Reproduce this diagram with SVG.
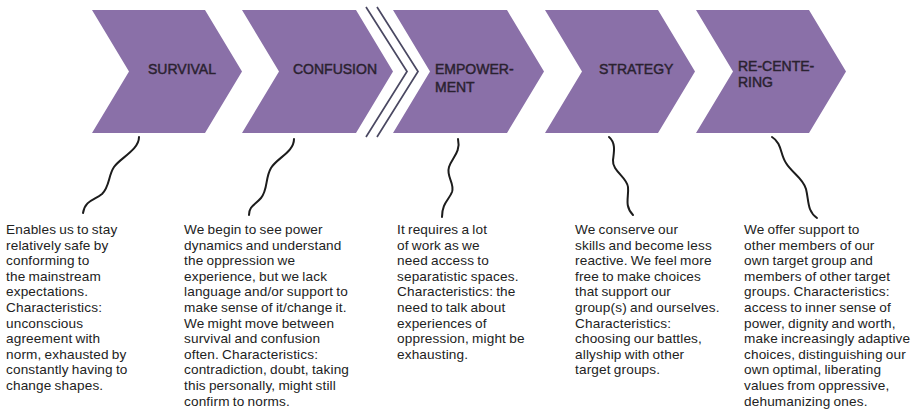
<svg xmlns="http://www.w3.org/2000/svg" width="920" height="411" viewBox="0 0 920 411">
<style>
.chev{fill:#8a70a8}
.lbl{font-family:"Liberation Sans",Arial,sans-serif;font-size:14px;fill:#2a2230;stroke:#2a2230;stroke-width:0.45}
.body{font-family:"Liberation Sans",Arial,sans-serif;font-size:13.6px;fill:#222;letter-spacing:0.15px;word-spacing:-0.8px}
.sq{fill:none;stroke:#1c1c1c;stroke-width:2;stroke-linecap:round}
.dbl{fill:none;stroke:#4a4862;stroke-width:1.7}
</style>
<rect width="920" height="411" fill="#fff"/>
<g id="survival">
<polygon class="chev" points="92,10 205,10 242,71.5 205,133 92,133 129,71.5"/>
<text class="lbl" x="148" y="74">SURVIVAL</text>
<text class="body" x="6" y="234">
<tspan x="6" dy="0">Enables us to stay</tspan>
<tspan x="6" dy="15.6">relatively safe by</tspan>
<tspan x="6" dy="15.6">conforming to</tspan>
<tspan x="6" dy="15.6">the mainstream</tspan>
<tspan x="6" dy="15.6">expectations.</tspan>
<tspan x="6" dy="15.6">Characteristics:</tspan>
<tspan x="6" dy="15.6">unconscious</tspan>
<tspan x="6" dy="15.6">agreement with</tspan>
<tspan x="6" dy="15.6">norm, exhausted by</tspan>
<tspan x="6" dy="15.6">constantly having to</tspan>
<tspan x="6" dy="15.6">change shapes.</tspan>
</text>
</g>
<g id="confusion">
<polygon class="chev" points="242,10 356,10 393,71.5 356,133 242,133 279,71.5"/>
<text class="lbl" x="293" y="74">CONFUSION</text>
<text class="body" x="184" y="234">
<tspan x="184" dy="0">We begin to see power</tspan>
<tspan x="184" dy="15.6">dynamics and understand</tspan>
<tspan x="184" dy="15.6">the oppression we</tspan>
<tspan x="184" dy="15.6">experience, but we lack</tspan>
<tspan x="184" dy="15.6">language and/or support to</tspan>
<tspan x="184" dy="15.6">make sense of it/change it.</tspan>
<tspan x="184" dy="15.6">We might move between</tspan>
<tspan x="184" dy="15.6">survival and confusion</tspan>
<tspan x="184" dy="15.6">often. Characteristics:</tspan>
<tspan x="184" dy="15.6">contradiction, doubt, taking</tspan>
<tspan x="184" dy="15.6">this personally, might still</tspan>
<tspan x="184" dy="15.6">confirm to norms.</tspan>
</text>
</g>
<g id="separator">
<polyline class="dbl" points="366,7 407,71.5 366,137"/>
<polyline class="dbl" points="377,7 418,71.5 377,137"/>
</g>
<g id="empowerment">
<polygon class="chev" points="393,10 507,10 544,71.5 507,133 393,133 430,71.5"/>
<text class="lbl" x="435" y="74">EMPOWER-</text>
<text class="lbl" x="435" y="91.7">MENT</text>
<text class="body" x="397" y="234">
<tspan x="397" dy="0">It requires a lot</tspan>
<tspan x="397" dy="15.6">of work as we</tspan>
<tspan x="397" dy="15.6">need access to</tspan>
<tspan x="397" dy="15.6">separatistic spaces.</tspan>
<tspan x="397" dy="15.6">Characteristics: the</tspan>
<tspan x="397" dy="15.6">need to talk about</tspan>
<tspan x="397" dy="15.6">experiences of</tspan>
<tspan x="397" dy="15.6">oppression, might be</tspan>
<tspan x="397" dy="15.6">exhausting.</tspan>
</text>
</g>
<g id="strategy">
<polygon class="chev" points="545,10 658,10 695,71.5 658,133 545,133 582,71.5"/>
<text class="lbl" x="599" y="74">STRATEGY</text>
<text class="body" x="575" y="234">
<tspan x="575" dy="0">We conserve our</tspan>
<tspan x="575" dy="15.6">skills and become less</tspan>
<tspan x="575" dy="15.6">reactive. We feel more</tspan>
<tspan x="575" dy="15.6">free to make choices</tspan>
<tspan x="575" dy="15.6">that support our</tspan>
<tspan x="575" dy="15.6">group(s) and ourselves.</tspan>
<tspan x="575" dy="15.6">Characteristics:</tspan>
<tspan x="575" dy="15.6">choosing our battles,</tspan>
<tspan x="575" dy="15.6">allyship with other</tspan>
<tspan x="575" dy="15.6">target groups.</tspan>
</text>
</g>
<g id="recentering">
<polygon class="chev" points="696,10 809,10 846,71.5 809,133 696,133 733,71.5"/>
<text class="lbl" x="738" y="70.7">RE-CENTE-</text>
<text class="lbl" x="738" y="87.3">RING</text>
<text class="body" x="744" y="234">
<tspan x="744" dy="0">We offer support to</tspan>
<tspan x="744" dy="15.6">other members of our</tspan>
<tspan x="744" dy="15.6">own target group and</tspan>
<tspan x="744" dy="15.6">members of other target</tspan>
<tspan x="744" dy="15.6">groups. Characteristics:</tspan>
<tspan x="744" dy="15.6">access to inner sense of</tspan>
<tspan x="744" dy="15.6">power, dignity and worth,</tspan>
<tspan x="744" dy="15.6">make increasingly adaptive</tspan>
<tspan x="744" dy="15.6">choices, distinguishing our</tspan>
<tspan x="744" dy="15.6">own optimal, liberating</tspan>
<tspan x="744" dy="15.6">values from oppressive,</tspan>
<tspan x="744" dy="15.6">dehumanizing ones.</tspan>
</text>
</g>
<g id="connectors">
<path class="sq" d="M139,137 C139,150 120,158 114,167 C108,176 110,186 102,194 C95,200 85,200 83,213"/>
<path class="sq" d="M294,139 C294,152 277,158 271,168 C265,178 268,190 261,198 C255,205 249,206 249,215"/>
<path class="sq" d="M458,139 C461,152 452,158 449,167 C446,177 455,183 452,192 C449,200 442,203 442,217"/>
<path class="sq" d="M609,137 C616,143 614,152 613,160 C612,171 627,177 628,187 C629,197 624,206 633,215"/>
<path class="sq" d="M772,137 C782,143 780,154 786,163 C792,173 803,178 806,189 C809,201 807,211 817,218"/>
</g>
</svg>
